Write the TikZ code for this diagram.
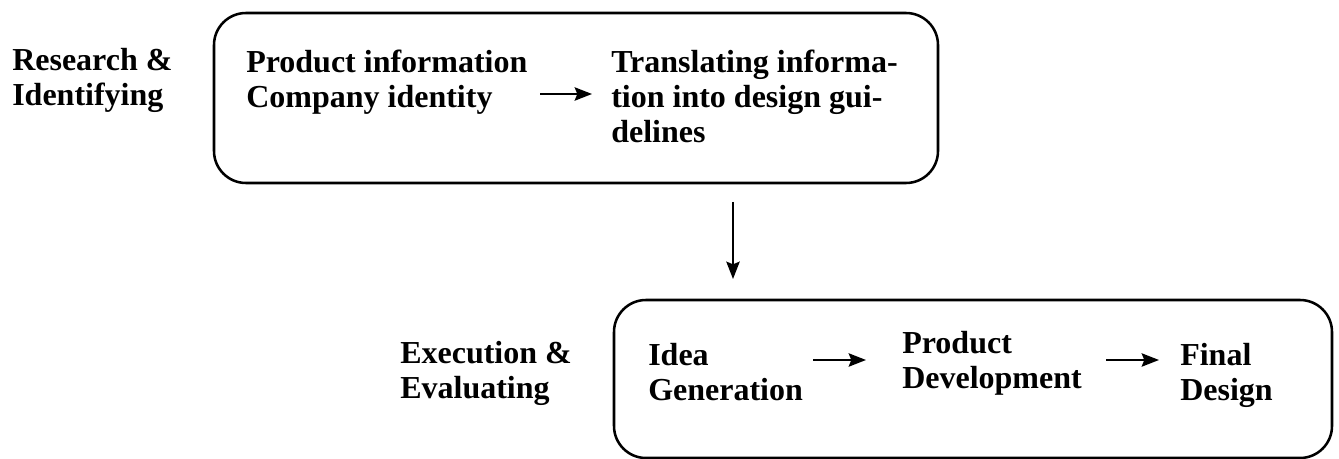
\documentclass[tikz,border=0pt]{standalone}
\usepackage{fontspec}
\setmainfont{Liberation Serif}
\usetikzlibrary{arrows.meta}
\begin{document}
\begin{tikzpicture}[x=0.75pt,y=-0.75pt,
  stage/.style={draw=black,line width=1.9pt,rounded corners=24pt},
  label/.style={font=\bfseries\fontsize{24}{26.5}\selectfont,align=left,inner sep=0pt,anchor=base west},
  flow/.style={line width=1.6pt,-{Stealth[length=13pt,width=10pt,inset=2pt]}}]
\useasboundingbox (0,0) rectangle (1339,459);
% phase boxes
\draw[stage] (214,13) rectangle (938,183);
\draw[stage] (614,300) rectangle (1332,458);
% phase names (anchored at the baseline of their last line)
\node[label] (rs) at (12,106) {Research \&\\Identifying};
\node[label] (ex) at (400,399) {Execution \&\\Evaluating};
% research steps
\node[label] (pi) at (246,108) {Product information\\Company identity};
\node[label] (tr) at (611,143) {Translating informa-\\tion into design gui-\\delines};
% execution steps
\node[label] (ig) at (648,401) {Idea\\Generation};
\node[label] (pd) at (902,389) {Product\\Development};
\node[label] (fd) at (1180,401) {Final\\Design};
% connectors
\coordinate (a1) at (540,94);  \coordinate (a2) at (592,94);
\coordinate (v1) at (733,202); \coordinate (v2) at (733,279);
\coordinate (b1) at (813,360); \coordinate (b2) at (866,360);
\coordinate (c1) at (1106,360); \coordinate (c2) at (1159,360);
\draw[flow] (a1) -- (a2);
\draw[flow] (v1) -- (v2);
\draw[flow] (b1) -- (b2);
\draw[flow] (c1) -- (c2);
\end{tikzpicture}
\end{document}
